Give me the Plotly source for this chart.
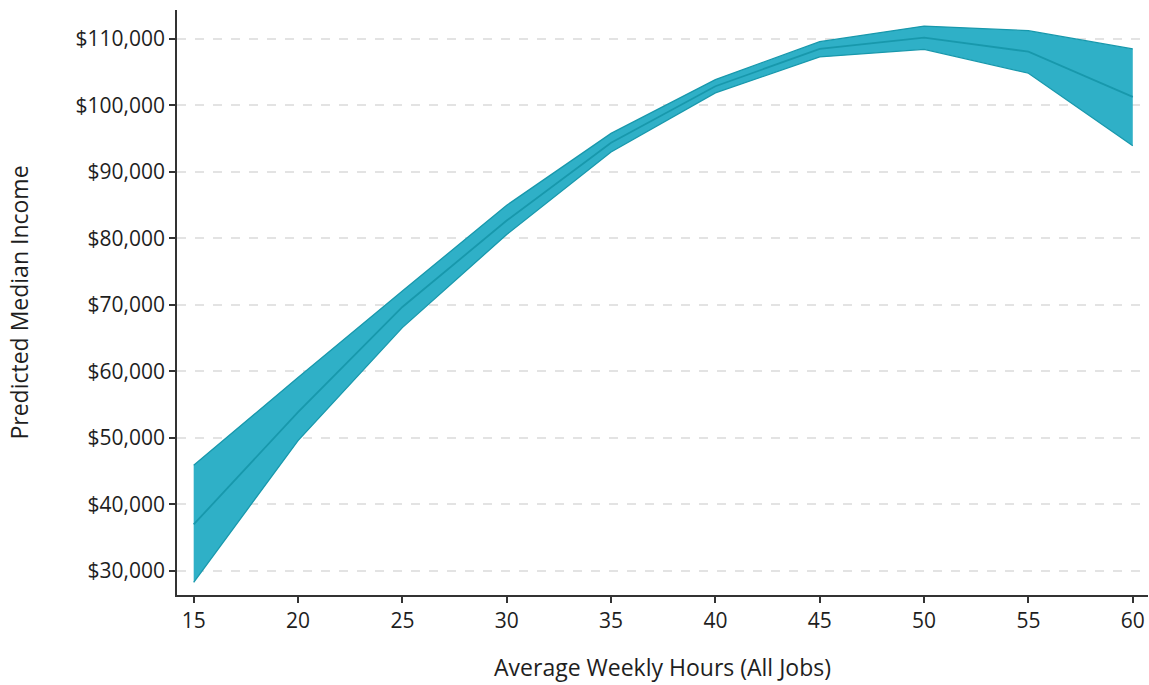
import plotly.graph_objects as go

hours = [15, 20, 25, 30, 35, 40, 45, 50, 55, 60]
upper = [45900, 59100, 72100, 85000, 95800, 103900, 109600, 111950, 111250, 108500]
median = [37000, 53900, 69700, 82700, 94400, 102900, 108500, 110200, 108100, 101300]
lower = [28300, 49600, 66600, 80600, 93000, 101900, 107300, 108450, 104850, 93950]

y_ticks = [30000, 40000, 50000, 60000, 70000, 80000, 90000, 100000, 110000]
y_labels = ["$30,000", "$40,000", "$50,000", "$60,000", "$70,000", "$80,000", "$90,000", "$100,000", "$110,000"]
x_ticks = [15, 20, 25, 30, 35, 40, 45, 50, 55, 60]

FILL = "rgb(47,176,199)"
EDGE = "rgb(24,152,172)"

fig = go.Figure()
fig.add_trace(go.Scatter(x=hours, y=lower, mode="lines",
                         line=dict(color=EDGE, width=1.3), showlegend=False, hoverinfo="skip"))
fig.add_trace(go.Scatter(x=hours, y=upper, mode="lines", fill="tonexty", fillcolor=FILL,
                         line=dict(color=EDGE, width=1.3), showlegend=False, hoverinfo="skip"))
fig.add_trace(go.Scatter(x=hours, y=median, mode="lines",
                         line=dict(color=EDGE, width=1.8), showlegend=False))

fig.update_layout(
    width=1149, height=685,
    margin=dict(l=177, r=1, t=10, b=90),
    paper_bgcolor="white", plot_bgcolor="white",
    font=dict(family="Open Sans, Noto Sans, sans-serif", size=21, color="#1e1e1e"),
    xaxis=dict(range=[14.2, 60.73], tickvals=x_ticks, showgrid=False, zeroline=False,
               showline=True, linecolor="#333", linewidth=1.5,
               ticks="outside", ticklen=6, tickcolor="#333", tickwidth=1.5,
               tickfont=dict(size=21),
               title=dict(text="Average Weekly Hours (All Jobs)", standoff=27, font=dict(size=23))),
    yaxis=dict(range=[26390, 114360], tickvals=y_ticks, ticktext=y_labels,
               showgrid=True, gridcolor="#e3e3e3", griddash="dash", gridwidth=1.5,
               zeroline=False, showline=True, linecolor="#333", linewidth=1.5,
               ticks="outside", ticklen=6, tickcolor="#333", tickwidth=1.5,
               tickfont=dict(size=21),
               title=dict(text="Predicted Median Income", standoff=40, font=dict(size=23))),
)

fig.write_html("out.html", config={"displayModeBar": False},
               post_script="document.body.style.margin='0';")
